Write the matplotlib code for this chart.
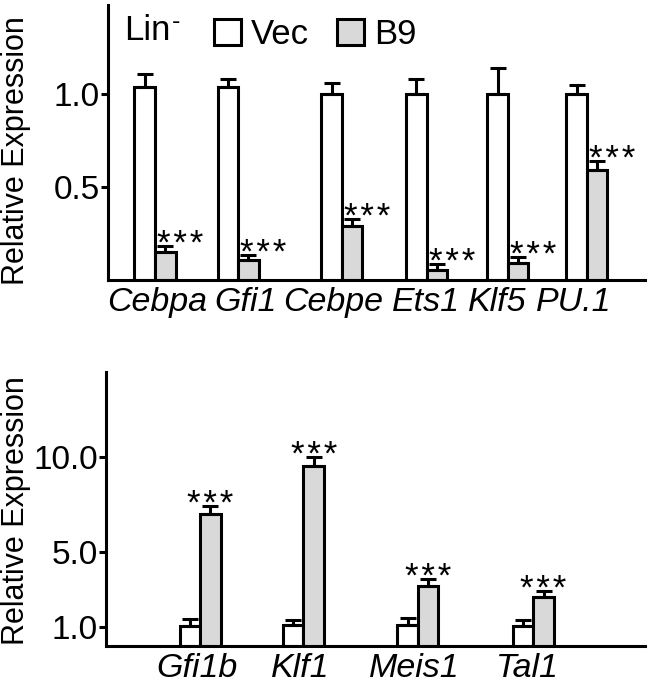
import matplotlib
matplotlib.use("Agg")
import matplotlib.pyplot as plt
from matplotlib.patches import Patch
import numpy as np

plt.rcParams['font.family'] = ['Liberation Sans', 'DejaVu Sans']

# ---- data ----
top_genes = ["Cebpa", "Gfi1", "Cebpe", "Ets1", "Klf5", "PU.1"]
top_vec = [1.04, 1.04, 1.00, 1.00, 1.00, 1.00]
top_vec_err = [0.07, 0.04, 0.06, 0.08, 0.14, 0.05]
top_b9 = [0.15, 0.11, 0.29, 0.055, 0.093, 0.59]
top_b9_err = [0.035, 0.025, 0.04, 0.03, 0.032, 0.05]
top_yticks = [0.5, 1.0]
top_yticklabels = ["0.5", "1.0"]

bot_genes = ["Gfi1b", "Klf1", "Meis1", "Tal1"]
bot_vec = [1.05, 1.1, 1.1, 1.05]
bot_vec_err = [0.36, 0.3, 0.4, 0.32]
bot_b9 = [7.0, 9.5, 3.2, 2.6]
bot_b9_err = [0.4, 0.5, 0.32, 0.32]
bot_yticks = [1.0, 5.0, 10.0]
bot_yticklabels = ["1.0", "5.0", "10.0"]

sig_label = "*\u200a*\u200a*"
series_names = ["Vec", "B9"]

# ---- layout ----
top_pos = np.array([0, 1.0, 2.25, 3.27, 4.25, 5.2])
top_label_pos = [0.02, 1.09, 2.15, 3.26, 4.12, 5.04]
top_w = 0.247
bot_pos = np.array([0, 0.94, 1.98, 3.03])
bot_label_pos = [-0.03, 0.91, 1.95, 2.98]
bot_w = 0.186

gray = '#d9d9d9'
lw = 2.2
fs = 24

fig = plt.figure(figsize=(6.51, 6.92), dpi=100)
ax1 = fig.add_axes([108/651, 1-280/692, 537/651, 275/692])
ax2 = fig.add_axes([106/651, 1-646/692, 539/651, 274/692])


def style(ax):
    for s in ['top', 'right']:
        ax.spines[s].set_visible(False)
    for s in ['left', 'bottom']:
        ax.spines[s].set_linewidth(lw)
    ax.tick_params(axis='y', length=5, width=lw, pad=1, labelsize=fs)
    ax.tick_params(axis='x', length=0, pad=5, labelsize=24.5)


def draw(ax, pos, w, vec, vec_err, b9, b9_err, ha_sig, dx_sig):
    ax.bar(pos - w/2, vec, w, color='white', edgecolor='black', linewidth=lw, zorder=2)
    ax.bar(pos + w/2, b9, w, color=gray, edgecolor='black', linewidth=lw, zorder=2)
    ax.errorbar(pos - w/2, vec, yerr=[np.zeros(len(vec)), vec_err], fmt='none',
                ecolor='black', elinewidth=lw, capsize=6, capthick=lw, zorder=3)
    ax.errorbar(pos + w/2, b9, yerr=[np.zeros(len(b9)), b9_err], fmt='none',
                ecolor='black', elinewidth=lw, capsize=6, capthick=lw, zorder=3)
    for x, m, e in zip(pos + w/2, b9, b9_err):
        ax.annotate(sig_label, (x, m + e), xytext=(dx_sig, -8), textcoords='offset pixels',
                    ha=ha_sig, va='baseline', fontsize=25)


# top panel
style(ax1)
draw(ax1, top_pos, top_w, top_vec, top_vec_err, top_b9, top_b9_err, 'left', -8)
ax1.set_xlim(-0.566, 5.9)
ax1.set_ylim(0, 1.48)
ax1.set_yticks(top_yticks)
ax1.set_yticklabels(top_yticklabels)
ax1.set_xticks(top_label_pos)
ax1.set_xticklabels(top_genes, fontstyle='italic')
ax1.set_ylabel("Relative Expression", fontsize=22)
ax1.yaxis.set_label_coords(-0.143, 0.47)

lin = ax1.text(0.03, 0.873, "Lin", transform=ax1.transAxes, fontsize=25,
               ha='left', va='baseline')
ax1.annotate("-", xy=(1, 1), xycoords=lin, xytext=(1, 4), textcoords='offset pixels',
             ha='left', va='top', fontsize=18)
handles = [Patch(facecolor='white', edgecolor='black', linewidth=lw),
           Patch(facecolor=gray, edgecolor='black', linewidth=lw)]
ax1.legend(handles, series_names, loc='upper left', bbox_to_anchor=(0.19, 0.964),
           frameon=False, fontsize=25, handlelength=0.78, handleheight=0.78,
           handletextpad=0.3, columnspacing=0.8, ncol=2, borderpad=0.1,
           borderaxespad=0)

# bottom panel
style(ax2)
draw(ax2, bot_pos, bot_w, bot_vec, bot_vec_err, bot_b9, bot_b9_err, 'center', 0)
ax2.set_xlim(-0.855, 4.045)
ax2.set_ylim(0, 14.5)
ax2.set_yticks(bot_yticks)
ax2.set_yticklabels(bot_yticklabels)
ax2.set_xticks(bot_label_pos)
ax2.set_xticklabels(bot_genes, fontstyle='italic')
ax2.set_ylabel("Relative Expression", fontsize=22)
ax2.yaxis.set_label_coords(-0.139, 0.496)

fig.savefig("out.png", dpi=100)
